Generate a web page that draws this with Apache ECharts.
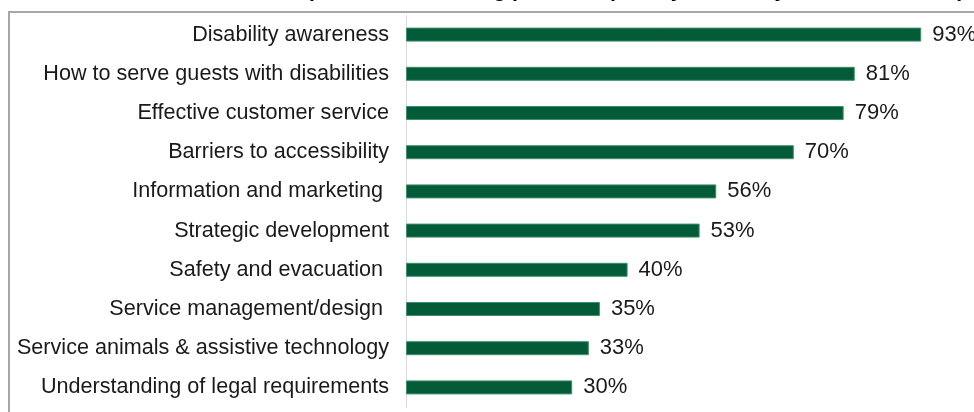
<!DOCTYPE html>
<html>
<head>
<meta charset="utf-8">
<script src="https://cdn.jsdelivr.net/npm/echarts@6/dist/echarts.min.js"></script>
<style>html,body{margin:0;padding:0;background:#fff}#c{width:974px;height:412px}</style>
</head>
<body>
<div id="c"></div>
<script>
const categories = [
  "Disability awareness",
  "How to serve guests with disabilities",
  "Effective customer service",
  "Barriers to accessibility",
  "Information and marketing ",
  "Strategic development",
  "Safety and evacuation ",
  "Service management/design ",
  "Service animals & assistive technology",
  "Understanding of legal requirements"
];
const values = [93, 81, 79, 70, 56, 53, 40, 35, 33, 30];
const titleText = "Importance of training priorities (% very/extremely, or somewhat important)";

const chart = echarts.init(document.getElementById('c'));
chart.setOption({
  animation: false,
  backgroundColor: '#fff',
  graphic: [
    { type: 'rect', shape: { x: 9, y: 12, width: 1000, height: 440 },
      style: { fill: 'none', stroke: '#a6a6a6', lineWidth: 2 }, z: 0 },
    { type: 'text', x: 660, y: 1.8,
      style: { text: titleText, font: 'bold 21px "Liberation Sans", Arial, sans-serif',
        fill: '#000', align: 'center', verticalAlign: 'bottom' } }
  ],
  grid: { left: 406, right: 14, top: 15, bottom: 5, containLabel: false },
  xAxis: { type: 'value', min: 0, max: 100, show: false },
  yAxis: {
    type: 'category', data: categories, inverse: true,
    axisLine: { show: true, lineStyle: { color: '#d9d9d9', width: 1 } },
    axisTick: { show: false },
    axisLabel: { color: '#1a1a1a', fontSize: 21.6, fontFamily: '"Liberation Sans", Arial, sans-serif', margin: 17 }
  },
  series: [{
    type: 'bar', data: values, barWidth: 14,
    itemStyle: { color: '#035b38', borderColor: '#3f8f6c', borderWidth: 1 },
    label: { show: true, position: 'right', distance: 11, formatter: '{c}%',
      color: '#1a1a1a', fontSize: 22, fontFamily: '"Liberation Sans", Arial, sans-serif' }
  }]
});
</script>
</body>
</html>
